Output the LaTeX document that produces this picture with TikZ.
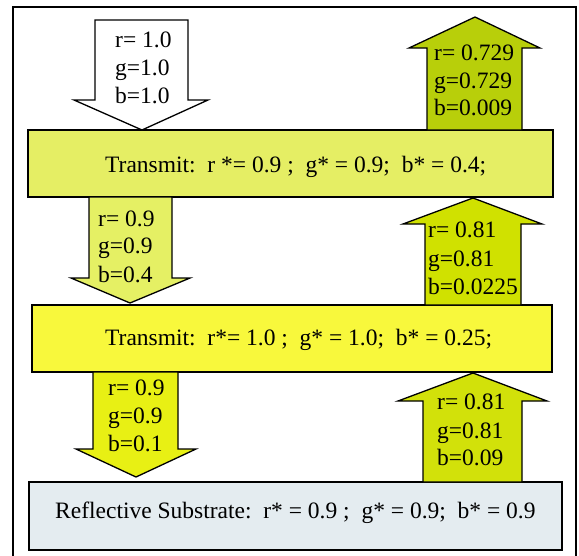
\documentclass[tikz,border=0pt]{standalone}
\usepackage{fontspec}
\setmainfont{Liberation Serif}
\definecolor{boxA}{RGB}{229,238,100}
\definecolor{boxB}{RGB}{248,248,60}
\definecolor{boxC}{RGB}{228,236,240}
\definecolor{arrA}{RGB}{229,240,100}
\definecolor{arrB}{RGB}{232,240,20}
\definecolor{upA}{RGB}{184,207,10}
\definecolor{upB}{RGB}{208,225,0}
\definecolor{upC}{RGB}{210,225,10}
\begin{document}
\begin{tikzpicture}[x=1pt,y=-1pt,
  shapeline/.style={draw=black,line width=1.3pt,line join=miter},
  lbl/.style={anchor=base west,inner sep=0pt,font=\fontsize{23.5}{28}\selectfont}]
\useasboundingbox (0,0) rectangle (579,555);
\fill[white] (0,0) rectangle (579,555);
\draw[line width=2pt] (13,557) -- (13,7) -- (576,7) -- (576,557);
% boxes
\draw[shapeline,fill=boxA] (28,130) rectangle (553,197);
\draw[shapeline,fill=boxB] (32,305) rectangle (552,372);
\draw[shapeline,fill=boxC] (29,482) rectangle (562,550);
% down arrows
\draw[shapeline,fill=white] (95,20) -- (188,20) -- (188,100) -- (208,100) -- (142,130) -- (74,100) -- (95,100) -- cycle;
\draw[shapeline,fill=arrA] (89,197) -- (172,197) -- (172,278) -- (190,278) -- (130,303) -- (71,278) -- (89,278) -- cycle;
\draw[shapeline,fill=arrB] (93,372) -- (178,372) -- (178,449) -- (196,449) -- (136,477) -- (76,449) -- (93,449) -- cycle;
% up arrows
\draw[shapeline,fill=upA] (427,130) -- (427,48) -- (409,48) -- (475,17) -- (540,48) -- (522,48) -- (522,130) -- cycle;
\draw[shapeline,fill=upB] (425,305) -- (425,224) -- (403,224) -- (473,198) -- (542,224) -- (521,224) -- (521,305) -- cycle;
\draw[shapeline,fill=upC] (423,482) -- (423,401) -- (398,401) -- (473,373) -- (547,401) -- (522,401) -- (522,482) -- cycle;
% box texts
\node[lbl] (t1) at (105,172) {Transmit:\ \ r *= 0.9 ;\ \ g* = 0.9;\ \ b* = 0.4;};
\node[lbl] (t2) at (105,345) {Transmit:\ \ r*= 1.0 ;\ \ g* = 1.0;\ \ b* = 0.25;};
\node[lbl] (t3) at (55,518) {Reflective Substrate:\ \ r* = 0.9 ;\ \ g* = 0.9;\ \ b* = 0.9};
% arrow texts
\node[lbl] (a1r) at (115,47) {r= 1.0};
\node[lbl] (a1g) at (115,75) {g=1.0};
\node[lbl] (a1b) at (115,103) {b=1.0};
\node[lbl] (u1r) at (434,60) {r= 0.729};
\node[lbl] (u1g) at (434,88) {g=0.729};
\node[lbl] (u1b) at (434,115) {b=0.009};
\node[lbl] (a2r) at (98,226) {r= 0.9};
\node[lbl] (a2g) at (98,253) {g=0.9};
\node[lbl] (a2b) at (98,282) {b=0.4};
\node[lbl] (u2r) at (428,237) {r= 0.81};
\node[lbl] (u2g) at (428,266) {g=0.81};
\node[lbl] (u2b) at (428,294) {b=0.0225};
\node[lbl] (a3r) at (108,395) {r= 0.9};
\node[lbl] (a3g) at (108,423) {g=0.9};
\node[lbl] (a3b) at (108,451) {b=0.1};
\node[lbl] (u3r) at (437,409) {r= 0.81};
\node[lbl] (u3g) at (437,438) {g=0.81};
\node[lbl] (u3b) at (437,465) {b=0.09};
\end{tikzpicture}
\end{document}
